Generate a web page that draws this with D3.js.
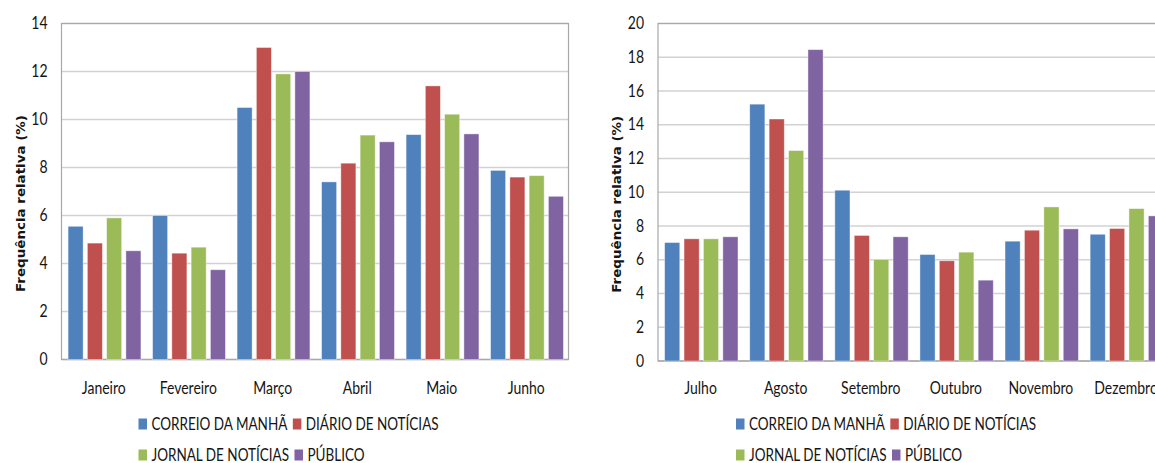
<!DOCTYPE html>
<html>
<head>
<meta charset="utf-8">
<script src="https://cdn.jsdelivr.net/npm/d3@7"></script>
<style>
  html, body { margin: 0; padding: 0; background: #fff; overflow: hidden; }
  svg { display: block; }
  text { font-family: Lato, "Open Sans", sans-serif; fill: #151515; }
</style>
</head>
<body>
<svg id="chart" width="1155" height="463"></svg>
<script>
// ---- data ----
const seriesNames = ["CORREIO DA MANHÃ", "DIÁRIO DE NOTÍCIAS", "JORNAL DE NOTÍCIAS", "PÚBLICO"];
const seriesColors = ["#4F81BD", "#C0504D", "#9BBB59", "#8064A2"];

const monthsH1 = ["Janeiro", "Fevereiro", "Março", "Abril", "Maio", "Junho"];
const correioH1 = [5.55, 6.0, 10.5, 7.4, 9.37, 7.88];
const diarioH1  = [4.85, 4.43, 13.0, 8.18, 11.4, 7.6];
const jornalH1  = [5.9, 4.68, 11.9, 9.35, 10.22, 7.66];
const publicoH1 = [4.53, 3.74, 12.0, 9.07, 9.4, 6.8];
const ticksH1 = [0, 2, 4, 6, 8, 10, 12, 14];

const monthsH2 = ["Julho", "Agosto", "Setembro", "Outubro", "Novembro", "Dezembro"];
const correioH2 = [7.02, 15.22, 10.12, 6.31, 7.1, 7.51];
const diarioH2  = [7.24, 14.34, 7.44, 5.94, 7.75, 7.85];
const jornalH2  = [7.24, 12.47, 6.02, 6.45, 9.13, 9.03];
const publicoH2 = [7.36, 18.45, 7.36, 4.79, 7.83, 8.6];
const ticksH2 = [0, 2, 4, 6, 8, 10, 12, 14, 16, 18, 20];

const yTitle = "Frequência relativa (%)";

// ---- drawing ----
const svg = d3.select("#chart");
const SY = 1.25; // vertical stretch of the text in the reference

function stretchedText(parent, x, y, str, anchor, size) {
  const g = parent.append("g").attr("transform", `translate(${x},${y}) scale(1,${SY})`);
  return g.append("text")
    .attr("text-anchor", anchor || "start")
    .style("font-size", (size || 14) + "px")
    .text(str);
}

function drawChart(cfg) {
  const { months, values, ticks, left, right, top, bottom, titleX, legendX } = cfg;
  const g = svg.append("g");
  const yMax = ticks[ticks.length - 1];
  const y = d3.scaleLinear().domain([0, yMax]).range([bottom, top]);
  const x0 = d3.scaleBand().domain(months).range([left, right]).paddingInner(0).paddingOuter(0);
  const bw = x0.bandwidth();
  const x1 = d3.scaleBand().domain(d3.range(seriesNames.length))
    .range([bw * 0.078, bw * 0.94]).paddingInner(0.22).paddingOuter(0);

  // gridlines
  g.selectAll("line.grid").data(ticks).join("line")
    .attr("class", "grid")
    .attr("x1", left).attr("x2", right)
    .attr("y1", d => y(d)).attr("y2", d => y(d))
    .attr("stroke", d => d === 0 ? "#b0b0b0" : "#d2d2d2")
    .attr("stroke-width", 1.6);

  // plot border
  g.append("rect")
    .attr("x", left).attr("y", y(yMax))
    .attr("width", right - left).attr("height", bottom - y(yMax))
    .attr("fill", "none").attr("stroke", "#a8a8a8").attr("stroke-width", 1.2);

  // bars
  months.forEach((m, i) => {
    values.forEach((arr, s) => {
      g.append("rect")
        .attr("x", x0(m) + x1(s))
        .attr("y", y(arr[i]))
        .attr("width", x1.bandwidth())
        .attr("height", y(0) - y(arr[i]))
        .attr("fill", seriesColors[s])
        .attr("stroke", "#ffffff").attr("stroke-opacity", 0.5).attr("stroke-width", 0.8);
    });
  });

  // y tick labels
  ticks.forEach(t => {
    stretchedText(g, left - 14, y(t) + 5.5, String(t), "end", 14);
  });

  // x labels
  months.forEach(m => {
    stretchedText(g, x0(m) + bw / 2, 394, m, "middle", 14);
  });

  // y title
  const tg = g.append("g").attr("transform", `translate(${titleX},${(top + bottom) / 2 + 12}) rotate(-90) scale(1.12,1)`);
  tg.append("text")
    .attr("text-anchor", "middle")
    .style("font-family", "'DejaVu Sans', sans-serif")
    .style("font-weight", "bold")
    .style("font-size", "12px")
    .text(yTitle);

  // legend (2 rows)
  const rows = [[0, 1], [2, 3]];
  const rowY = [429.5, 460.5];
  rows.forEach((row, r) => {
    let cx = legendX;
    row.forEach(s => {
      g.append("rect")
        .attr("x", cx).attr("y", rowY[r] - 11)
        .attr("width", 8.5).attr("height", 11)
        .attr("fill", seriesColors[s]);
      const t = stretchedText(g, cx + 13, rowY[r], seriesNames[s], "start", 13.5);
      const w = t.node().getComputedTextLength();
      cx = cx + 13 + w + 5.5;
    });
  });
}

drawChart({
  months: monthsH1,
  values: [correioH1, diarioH1, jornalH1, publicoH1],
  ticks: ticksH1,
  left: 61.5, right: 568.5, top: 23.5, bottom: 359.5,
  titleX: 25, legendX: 138.5
});

drawChart({
  months: monthsH2,
  values: [correioH2, diarioH2, jornalH2, publicoH2],
  ticks: ticksH2,
  left: 658, right: 1168.6, top: 23.5, bottom: 361,
  titleX: 621, legendX: 736
});
</script>
</body>
</html>
